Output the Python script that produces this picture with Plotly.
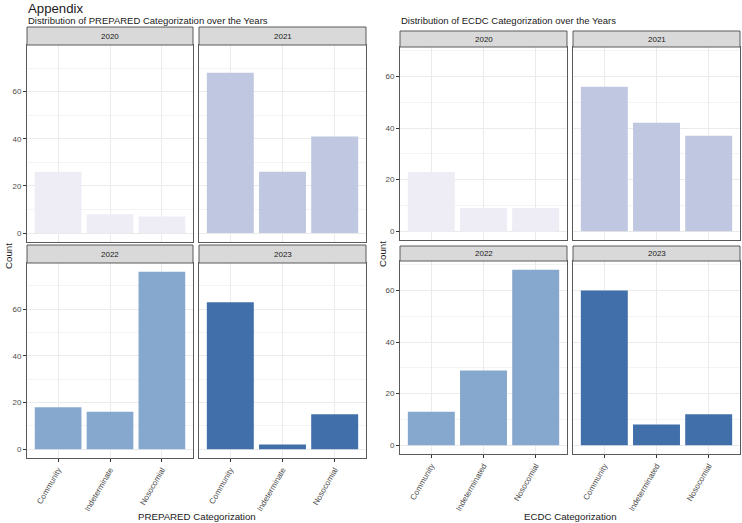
import plotly.graph_objects as go

# ---------------- data ----------------
years = ["2020", "2021", "2022", "2023"]
prepared_categories = ["Community", "Indeterminate", "Nosocomial"]
ecdc_categories = ["Community", "Indeterminated", "Nosocomial"]

prepared_2020 = [26, 8, 7]
prepared_2021 = [68, 26, 41]
prepared_2022 = [18, 16, 76]
prepared_2023 = [63, 2, 15]

ecdc_2020 = [23, 9, 9]
ecdc_2021 = [56, 42, 37]
ecdc_2022 = [13, 29, 68]
ecdc_2023 = [60, 8, 12]

y_ticks = [0, 20, 40, 60]

# ---------------- style ----------------
year_colors = ["#EEECF4", "#BFC8E0", "#87A8CE", "#416FAA"]
FONT = "Liberation Sans, Arial, Helvetica, sans-serif"
W, H = 742, 523
BORDER = "#5A5A5A"


def fx(px):
    return px / W


def fy(py):
    return 1 - py / H


fig = go.Figure()
layout = dict(
    width=W, height=H,
    margin=dict(l=0, r=0, t=0, b=0),
    paper_bgcolor="white", plot_bgcolor="white",
    showlegend=False,
    font=dict(family=FONT, color="#1A1A1A"),
    shapes=[], annotations=[],
)

prepared_series = [prepared_2020, prepared_2021, prepared_2022, prepared_2023]
ecdc_series = [ecdc_2020, ecdc_2021, ecdc_2022, ecdc_2023]

# panel geometry in pixels: (x0, x1) per column, (strip_top, plot_top, plot_bottom) per row
groups = [
    dict(series=prepared_series, cats=prepared_categories,
         cols=[(27, 193), (199, 366)],
         rows=[(27, 45, 242), (245, 263, 458)]),
    dict(series=ecdc_series, cats=ecdc_categories,
         cols=[(400, 567), (573, 740)],
         rows=[(31, 47, 240), (246, 261, 454)]),
]

k = 0
for g in groups:
    ymax = max(max(s) for s in g["series"])
    yrange = [-0.05 * ymax, ymax * 1.05]
    for i, year in enumerate(years):
        k += 1
        r, c = divmod(i, 2)
        x0, x1 = g["cols"][c]
        st, pt, pb = g["rows"][r]
        xa = "xaxis" if k == 1 else f"xaxis{k}"
        ya = "yaxis" if k == 1 else f"yaxis{k}"
        xr = "x" if k == 1 else f"x{k}"
        yr = "y" if k == 1 else f"y{k}"
        fig.add_trace(go.Bar(
            x=g["cats"], y=g["series"][i], xaxis=xr, yaxis=yr,
            width=0.9, marker=dict(color=year_colors[i], line=dict(width=0)),
        ))
        bottom = r == 1
        left = c == 0
        layout[xa] = dict(
            domain=[fx(x0), fx(x1)], anchor=yr, type="category",
            range=[-0.6, 2.6], showline=True, mirror=True,
            linecolor=BORDER, linewidth=1,
            showgrid=True, gridcolor="#EBEBEB", gridwidth=1, zeroline=False,
            ticks="outside" if bottom else "", ticklen=3, tickcolor="#333333",
            showticklabels=bottom, tickangle=-60,
            tickfont=dict(size=8, color="#4D4D4D", family=FONT),
            fixedrange=True,
        )
        layout[ya] = dict(
            domain=[fy(pb), fy(pt)], anchor=xr, range=yrange,
            showline=True, mirror=True, linecolor=BORDER, linewidth=1,
            showgrid=True, gridcolor="#EBEBEB", gridwidth=1, zeroline=False,
            tickmode="array", tickvals=y_ticks,
            ticks="outside" if left else "", ticklen=3, tickcolor="#333333",
            showticklabels=left,
            tickfont=dict(size=8, color="#4D4D4D", family=FONT),
            minor=dict(tickmode="array", tickvals=[10, 30, 50, 70],
                       showgrid=True, gridcolor="#F3F3F3", gridwidth=0.6, ticks=""),
            fixedrange=True,
        )
        # strip
        layout["shapes"].append(dict(
            type="rect", xref="paper", yref="paper",
            x0=fx(x0), x1=fx(x1), y0=fy(pt), y1=fy(st),
            fillcolor="#D9D9D9", line=dict(color=BORDER, width=1), layer="above",
        ))
        layout["annotations"].append(dict(
            text=year, xref="paper", yref="paper",
            x=fx((x0 + x1) / 2), y=fy((st + pt) / 2),
            showarrow=False, xanchor="center", yanchor="middle",
            font=dict(size=8, color="#1A1A1A", family=FONT),
        ))

# titles
def add_text(text, x, y, size, xanchor="left", angle=0):
    layout["annotations"].append(dict(
        text=text, xref="paper", yref="paper", x=fx(x), y=fy(y),
        showarrow=False, xanchor=xanchor, yanchor="middle", textangle=angle,
        font=dict(size=size, color="#1A1A1A", family=FONT),
    ))

add_text("Appendix", 26, 9, 13.2)
add_text("Distribution of PREPARED Categorization over the Years", 26, 21, 9.5)
add_text("Distribution of ECDC Categorization over the Years", 399, 21, 9.5)
add_text("Count", 8, 256, 9.7, xanchor="center", angle=-90)
add_text("Count", 382, 254, 9.7, xanchor="center", angle=-90)
add_text("PREPARED Categorization", 197, 516, 9.7, xanchor="center")
add_text("ECDC Categorization", 570, 516, 9.7, xanchor="center")

fig.update_layout(**layout)
fig.write_html("out.html")
